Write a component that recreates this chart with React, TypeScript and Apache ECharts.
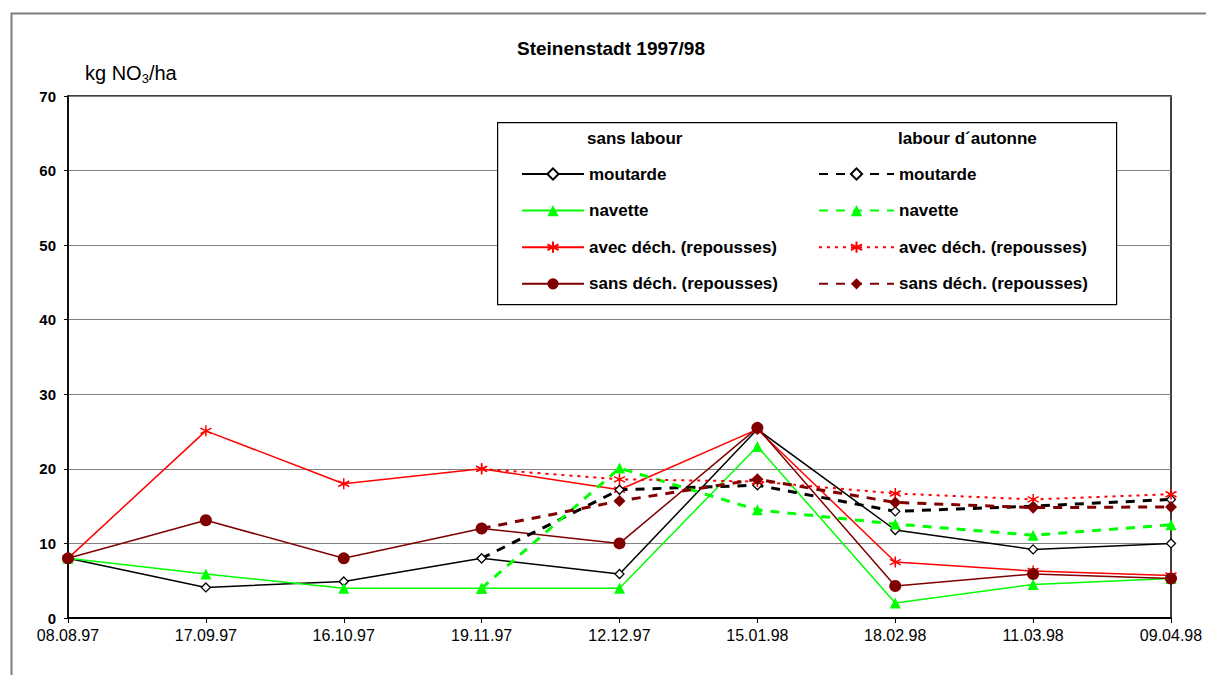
import React, { useEffect, useRef } from "react";
import * as echarts from "echarts";

const categories = ["08.08.97", "17.09.97", "16.10.97", "19.11.97", "12.12.97", "15.01.98", "18.02.98", "11.03.98", "09.04.98"];

// sans labour (solid)
const moutardeSL = [8, 4.1, 4.9, 8, 5.9, 25.3, 11.8, 9.2, 10];
const navetteSL = [8, 5.9, 4, 4, 4, 23, 2, 4.5, 5.3];
const avecSL = [8, 25.1, 18, 20, 17.2, 25.3, 7.5, 6.3, 5.7];
const sansSL = [8, 13.1, 8, 12, 10, 25.5, 4.3, 5.9, 5.3];

// labour d'autonne (dashed)
const moutardeLA = [null, null, null, 8, 17.2, 17.8, 14.3, 15.0, 15.9];
const navetteLA = [null, null, null, 4, 20.1, 14.5, 12.6, 11.1, 12.5];
const avecLA = [null, null, null, 20, 18.6, 18.3, 16.7, 15.9, 16.6];
const sansLA = [null, null, null, 12, 15.7, 18.6, 15.5, 14.8, 14.9];

const yTicks = { min: 0, max: 70, interval: 10 };

const FONT = "'Liberation Sans', Arial, sans-serif";
const ASTERISK = "path://M5,0L5,10M0.67,2.5L9.33,7.5M0.67,7.5L9.33,2.5";

export default function App() {
  const ref = useRef<HTMLDivElement>(null);
  useEffect(() => {
    if (!ref.current) return;
    const chart = echarts.init(ref.current, null, { renderer: "svg" });

    const mk = (name: string, data: (number | null)[], color: string, symbol: string, size: number, item: any, line: any) => ({
      type: "line",
      name,
      data,
      color,
      symbol,
      symbolSize: size,
      showAllSymbol: true,
      connectNulls: false,
      itemStyle: item,
      lineStyle: line,
      emphasis: { disabled: true },
      z: 3,
    });

    const series = [
      mk("moutarde", moutardeSL, "#000", "diamond", 9, { color: "#fff", borderColor: "#000", borderWidth: 1.3 }, { color: "#000", width: 1.5 }),
      mk("navette", navetteSL, "#00ff00", "triangle", 11, { color: "#00ff00" }, { color: "#00ff00", width: 1.5 }),
      mk("avec déch. (repousses)", avecSL, "#ff0000", ASTERISK, 11, { color: "#ff0000", borderColor: "#ff0000", borderWidth: 1.5 }, { color: "#ff0000", width: 1.5 }),
      mk("sans déch. (repousses)", sansSL, "#800000", "circle", 12, { color: "#800000" }, { color: "#800000", width: 1.5 }),
      mk("moutarde|L", moutardeLA, "#000", "diamond", 9, { color: "#fff", borderColor: "#000", borderWidth: 1.3 }, { color: "#000", width: 3, type: [9, 8] }),
      mk("navette|L", navetteLA, "#00ff00", "triangle", 11, { color: "#00ff00" }, { color: "#00ff00", width: 3, type: [9, 8] }),
      mk("avec déch. (repousses)|L", avecLA, "#ff0000", ASTERISK, 11, { color: "#ff0000", borderColor: "#ff0000", borderWidth: 1.5 }, { color: "#ff0000", width: 2, type: [3, 5] }),
      mk("sans déch. (repousses)|L", sansLA, "#800000", "diamond", 12, { color: "#800000" }, { color: "#800000", width: 3, type: [9, 8] }),
    ];

    const legendBase = {
      orient: "vertical",
      padding: 0,
      itemHeight: 14,
      itemGap: 19.6,
      top: 165.5,
      selectedMode: false,
      z: 5,
      textStyle: { fontFamily: FONT, fontWeight: "bold", fontSize: 17, color: "#000", lineHeight: 17 },
      formatter: (n: string) => n.replace("|L", ""),
    };

    chart.setOption({
      animation: false,
      backgroundColor: "#fff",
      grid: { left: 68, right: 35, top: 96, bottom: 57, show: true, borderColor: "#000", borderWidth: 1.5, backgroundColor: "transparent" },
      xAxis: {
        type: "category",
        data: categories,
        boundaryGap: false,
        axisLine: { lineStyle: { color: "#000", width: 2 } },
        axisTick: { show: true, length: 5, lineStyle: { color: "#000" } },
        axisLabel: { fontFamily: FONT, fontSize: 16, color: "#000", margin: 9 },
        splitLine: { show: false },
      },
      yAxis: {
        type: "value",
        min: yTicks.min,
        max: yTicks.max,
        interval: yTicks.interval,
        axisLine: { show: true, lineStyle: { color: "#000", width: 1.5 } },
        axisTick: { show: true, length: 4, lineStyle: { color: "#000" } },
        axisLabel: { fontFamily: FONT, fontSize: 15, fontWeight: "bold", color: "#000", margin: 12 },
        splitLine: { show: true, lineStyle: { color: "#808080", width: 1 } },
      },
      legend: [
        { ...legendBase, left: 521, itemWidth: 62, data: series.slice(0, 4).map((s) => s.name) },
        { ...legendBase, left: 818, itemWidth: 75, data: series.slice(4).map((s) => s.name) },
      ],
      graphic: [
        { type: "rect", left: 9, top: 11, z: 0, shape: { width: 1300, height: 700 }, style: { fill: "none", stroke: "#7f7f7f", lineWidth: 2 } },
        { type: "rect", left: 497, top: 122, z: 4, shape: { width: 619, height: 182 }, style: { fill: "#fff", stroke: "#000", lineWidth: 1.2 } },
        { type: "text", left: 587, top: 130, z: 6, style: { text: "sans labour", font: `bold 17px ${FONT}`, fill: "#000" } },
        { type: "text", left: 898, top: 130, z: 6, style: { text: "labour d´autonne", font: `bold 17px ${FONT}`, fill: "#000" } },
        { type: "text", x: 611, y: 48, z: 6, style: { text: "Steinenstadt 1997/98", font: `bold 19px ${FONT}`, fill: "#000", align: "center", verticalAlign: "middle" } },
        {
          type: "text", left: 85, top: 63, z: 6,
          style: {
            text: "kg NO{sub|3}/ha",
            font: `20px ${FONT}`,
            fill: "#000",
            rich: { sub: { fontSize: 13, fontFamily: FONT, verticalAlign: "bottom", padding: [10, 0, 0, 0] } },
          },
        },
      ],
      series,
    });
    return () => chart.dispose();
  }, []);
  return <div ref={ref} style={{ position: "absolute", left: 0, top: 0, width: 1206, height: 675 }} />;
}
